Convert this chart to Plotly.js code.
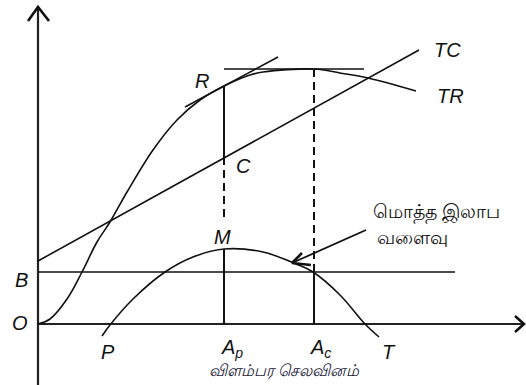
<!DOCTYPE html>
<html>
<head>
<meta charset="utf-8">
<script src="https://cdn.plot.ly/plotly-3.0.1.min.js"></script>
<style>html,body{margin:0;padding:0;background:#fff;}#chart{width:526px;height:385px;}</style>
</head>
<body>
<div id="chart"></div>
<script>
// Total revenue curve (TR)
const trX = [0, 1.2, 2.9, 4.4, 5.9, 7.2, 8.9, 11.5, 13.9, 16.2, 18.6, 21.2, 22.5, 27.6, 30.2, 33.0, 37.8];
const trY = [0, 0.5, 2.5, 5.2, 8.2, 10.2, 13.2, 17.4, 20.4, 22.4, 23.8, 24.9, 25.2, 25.5, 25.1, 24.6, 23.3];
// Total cost line (TC)
const tcX = [0, 38.1];
const tcY = [6.3, 27.4];
// Total profit curve (P ... T)
const profitX = [6.4, 7.2, 9.5, 12.7, 15.5, 18.6, 22.5, 25.8, 27.5, 30.2, 32.7, 34.1];
const profitY = [-1.2, -0.1, 2.5, 5.2, 6.7, 7.5, 7.2, 6.0, 5.2, 2.9, 0, -1.3];
// Minimum profit level B
const bX = [0, 41.7];
const bY = [5.2, 5.2];
// Tangent at R (parallel to TC)
const tanRX = [14.7, 24.0];
const tanRY = [21.7, 26.7];
// Horizontal tangent at TR maximum
const topX = [18.6, 32.6];
const topY = [25.5, 25.5];
// Vertical at Ap
const apSolidTopX = [18.6, 18.6], apSolidTopY = [23.8, 16.7];
const apDashX = [18.6, 18.6], apDashY = [16.7, 10.6];
const apSolidBotX = [18.6, 18.6], apSolidBotY = [7.5, 0];
// Vertical at Ac
const acDashX = [27.6, 27.6], acDashY = [25.5, 6.0];
const acSolidX = [27.6, 27.6], acSolidY = [6.0, 0];
// Axes and arrowheads
const yAxisX = [0, 0], yAxisY = [-6.2, 31.7];
const xAxisX = [0, 48.6], xAxisY = [0, 0];
const yHeadX = [-1.0, 0, 1.1], yHeadY = [30.3, 31.7, 30.3];
const xHeadX = [47.7, 48.6, 47.7], xHeadY = [0.8, 0, -0.8];
// Pointer to profit curve
const ptrX = [32.8, 25.4], ptrY = [9.4, 6.1];
const ptrHeadX = [26.4, 25.4, 27.3], ptrHeadY = [7.1, 6.1, 5.9];
// Labels
const labelText = ['<i>TC</i>', '<i>TR</i>', '<i>R</i>', '<i>C</i>', '<i>M</i>', '<i>P</i>', '<i>A<sub>p</sub></i>', '<i>A<sub>c</sub></i>', '<i>T</i>', '<i>B</i>', '<i>O</i>'];
const labelX = [40.9, 41.2, 16.4, 20.5, 18.4, 7.0, 19.4, 28.2, 35.1, -1.7, -1.8];
const labelY = [27.4, 22.8, 24.3, 15.8, 8.7, -2.8, -2.4, -2.4, -2.8, 4.4, 0.1];
const noteLines = ['மொத்த இலாப', 'வளைவு'];
const noteX = [33.3, 33.7];
const noteY = [11.2, 8.7];
const xTitle = 'விளம்பர செலவினம்';

const ink = '#111';
function ln(x, y, opts) {
  return Object.assign({x: x, y: y, type: 'scatter', mode: 'lines', hoverinfo: 'skip',
    line: Object.assign({color: ink, width: 1.6}, opts || {})});
}
const traces = [
  ln(yAxisX, yAxisY, {width: 2.2, color: '#222'}),
  ln(xAxisX, xAxisY, {width: 2.2, color: '#222'}),
  ln(yHeadX, yHeadY, {width: 2.6, color: '#111'}),
  ln(xHeadX, xHeadY, {width: 2.6, color: '#111'}),
  ln(bX, bY, {width: 1.5}),
  ln(tcX, tcY, {width: 1.6}),
  ln(trX, trY, {width: 1.6, shape: 'spline', smoothing: 1}),
  ln(profitX, profitY, {width: 1.6, shape: 'spline', smoothing: 1}),
  ln(tanRX, tanRY, {width: 1.5}),
  ln(topX, topY, {width: 1.6}),
  ln(apSolidTopX, apSolidTopY, {width: 2}),
  ln(apDashX, apDashY, {width: 2, dash: '8px,5px'}),
  ln(apSolidBotX, apSolidBotY, {width: 2}),
  ln(acDashX, acDashY, {width: 2, dash: '8px,5px'}),
  ln(acSolidX, acSolidY, {width: 2}),
  ln(ptrX, ptrY, {width: 1.8}),
  ln(ptrHeadX, ptrHeadY, {width: 2.6})
];
const annotations = [];
for (let i = 0; i < labelText.length; i++) {
  annotations.push({x: labelX[i], y: labelY[i], xref: 'x', yref: 'y', text: labelText[i], showarrow: false,
    font: {family: 'Liberation Sans, Arial, sans-serif', size: 20, color: '#111'}});
}
for (let i = 0; i < noteLines.length; i++) {
  annotations.push({x: noteX[i], y: noteY[i], xref: 'x', yref: 'y', text: noteLines[i], showarrow: false,
    xanchor: 'left', font: {family: 'sans-serif', size: 19, color: '#111'}});
}
annotations.push({x: 24.6, y: -4.7, xref: 'x', yref: 'y', text: '<i>' + xTitle + '</i>', showarrow: false,
  font: {family: 'sans-serif', size: 16, color: '#1a1a3a'}});

const layout = {
  width: 526, height: 385,
  margin: {l: 0, r: 0, t: 0, b: 0},
  paper_bgcolor: '#fff', plot_bgcolor: '#fff',
  showlegend: false,
  xaxis: {range: [-3.8, 48.8], visible: false, fixedrange: true},
  yaxis: {range: [-6.1, 32.4], visible: false, fixedrange: true},
  annotations: annotations
};
Plotly.newPlot('chart', traces, layout, {staticPlot: true});
</script>
</body>
</html>
